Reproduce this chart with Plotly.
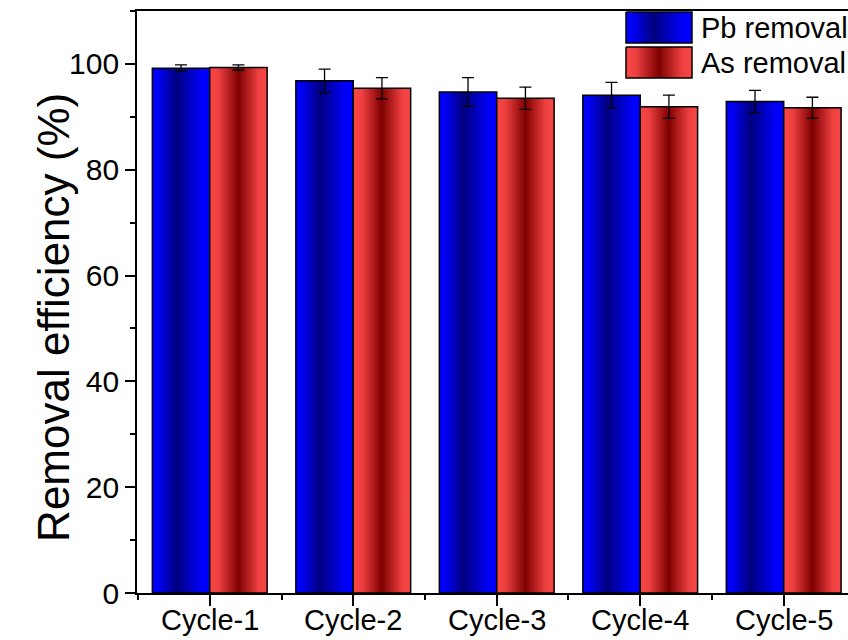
import plotly.graph_objects as go

categories = ["Cycle-1", "Cycle-2", "Cycle-3", "Cycle-4", "Cycle-5"]
pb_removal = [99.2, 96.8, 94.7, 94.1, 92.9]
pb_error = [0.6, 2.2, 2.7, 2.4, 2.1]
as_removal = [99.3, 95.4, 93.5, 91.9, 91.7]
as_error = [0.5, 2.0, 2.1, 2.2, 2.0]
y_ticks = [0, 20, 40, 60, 80, 100]

BAR_W = 0.4
PB_SCALE = [[0, "#0000FF"], [0.12, "#0000F0"], [0.42, "#00007F"], [0.88, "#0000FF"], [1, "#0000FF"]]
AS_SCALE = [[0, "#F84646"], [0.15, "#EE4040"], [0.5, "#7F0000"], [0.85, "#EE4040"], [1, "#F84646"]]

fig = go.Figure()

def add_bar(x0, x1, h, scale):
    fig.add_trace(go.Scatter(
        x=[x0, x1, x1, x0, x0], y=[0, 0, h, h, 0],
        mode="lines", fill="toself",
        fillgradient=dict(type="horizontal", colorscale=scale),
        line=dict(color="black", width=1.5),
        hoverinfo="skip", showlegend=False))

for i, (p, a) in enumerate(zip(pb_removal, as_removal)):
    add_bar(i - BAR_W, i, p, PB_SCALE)
    add_bar(i, i + BAR_W, a, AS_SCALE)

fig.add_trace(go.Scatter(
    x=[i - BAR_W / 2 for i in range(len(categories))], y=pb_removal,
    mode="markers", marker=dict(size=1, opacity=0),
    error_y=dict(type="data", array=pb_error, color="black", thickness=1.3, width=6),
    showlegend=False, hoverinfo="skip"))
fig.add_trace(go.Scatter(
    x=[i + BAR_W / 2 for i in range(len(categories))], y=as_removal,
    mode="markers", marker=dict(size=1, opacity=0),
    error_y=dict(type="data", array=as_error, color="black", thickness=1.3, width=6),
    showlegend=False, hoverinfo="skip"))

# custom legend drawn in a pixel-based overlay axis
legend_items = [("Pb removal", PB_SCALE), ("As removal", AS_SCALE)]
for k, (name, scale) in enumerate(legend_items):
    y0 = 12 + k * 35
    y1 = y0 + 31
    fig.add_trace(go.Scatter(
        x=[626, 692, 692, 626, 626], y=[y0, y0, y1, y1, y0],
        xaxis="x2", yaxis="y2", mode="lines", fill="toself",
        fillgradient=dict(type="horizontal", colorscale=scale),
        line=dict(color="black", width=1.5),
        hoverinfo="skip", showlegend=False))
    fig.add_annotation(x=699, y=(y0 + y1) / 2, xref="x2", yref="y2", text=name,
                       showarrow=False, xanchor="left", yanchor="middle",
                       font=dict(size=29, color="black", family="Liberation Sans, Arial"))

# x tick labels as annotations so they can sit just under the axis
for i, cat in enumerate(categories):
    fig.add_annotation(x=i, y=0, xref="x", yref="paper", text=cat, showarrow=False,
                       xanchor="center", yanchor="top", yshift=-10, borderpad=0,
                       font=dict(size=29, color="black", family="Liberation Sans, Arial"))

# y-axis title as a rotated annotation (sits closer to the axis than standoff allows)
fig.add_annotation(x=-0.1165, y=0.473, xref="paper", yref="paper",
                   text="Removal efficiency (%)", textangle=-90, showarrow=False,
                   xanchor="center", yanchor="middle",
                   font=dict(size=44, color="black", family="Liberation Sans, Arial"))

fig.update_layout(
    width=848, height=640,
    margin=dict(l=137, r=0, t=11, b=47),
    plot_bgcolor="white", paper_bgcolor="white",
    font=dict(family="Liberation Sans, Arial", color="black"),
    showlegend=False,
    xaxis=dict(
        range=[-0.507, 4.448], tickmode="array",
        tickvals=list(range(len(categories))), ticktext=[""] * len(categories),
        ticks="outside", ticklen=11, tickwidth=1.5, tickcolor="black",
        automargin=False,
        minor=dict(tickmode="array", tickvals=[i - 0.5 for i in range(len(categories) + 1)],
                   ticks="outside", ticklen=5, tickwidth=1.5, tickcolor="black"),
        showline=True, linecolor="black", linewidth=1.8, mirror=True,
        showgrid=False, zeroline=False),
    yaxis=dict(
        range=[0, 110], tickmode="array", tickvals=y_ticks,
        ticks="outside", ticklen=10, tickwidth=1.5, tickcolor="black",
        tickfont=dict(size=30), automargin=False,
        minor=dict(dtick=10, ticks="outside", ticklen=5, tickwidth=1.5, tickcolor="black"),
        showline=True, linecolor="black", linewidth=1.8,
        showgrid=False, zeroline=False),
    xaxis2=dict(overlaying="x", range=[137, 848], visible=False, fixedrange=True),
    yaxis2=dict(overlaying="y", range=[592.7, 11], visible=False, fixedrange=True),
)

fig.write_html("out.html", config={"displayModeBar": False},
               post_script="document.body.style.margin='0';document.body.style.overflow='hidden';")
